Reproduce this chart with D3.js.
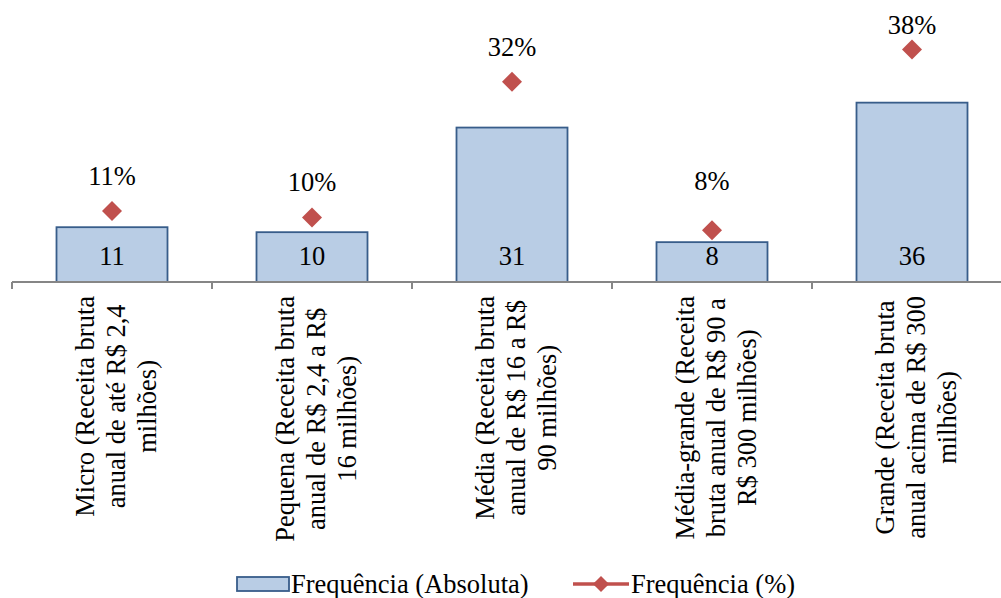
<!DOCTYPE html>
<html>
<head>
<meta charset="utf-8">
<script src="https://cdn.jsdelivr.net/npm/d3@7"></script>
<style>
  html, body { margin: 0; padding: 0; background: #fff; }
  svg { display: block; }
</style>
</head>
<body>
<script>
// Company size classes (each label split into its display lines)
const categories = [
  ["Micro (Receita bruta", "anual de até R$ 2,4", "milhões)"],
  ["Pequena (Receita bruta", "anual de R$ 2,4 a R$", "16 milhões)"],
  ["Média (Receita bruta", "anual de R$ 16 a R$", "90 milhões)"],
  ["Média-grande (Receita", "bruta anual de R$ 90 a", "R$ 300 milhões)"],
  ["Grande  (Receita bruta", "anual acima de R$ 300", "milhões)"]
];
// Absolute frequency (bars)
const absolute = [11, 10, 31, 8, 36];
// Relative frequency in % (diamonds)
const percent = [11.46, 10.42, 32.29, 8.33, 37.5];
const seriesNames = ["Frequência (Absoluta)", "Frequência (%)"];

const W = 1001, H = 598;
const fontSize = 26.5;
const fontFamily = "'Liberation Serif', 'Times New Roman', Times, 'DejaVu Serif', serif";
const barFill = "#B9CDE5", barStroke = "#385D8A", lineColor = "#C0504D";

const svg = d3.select("body").append("svg")
  .attr("width", W).attr("height", H)
  .attr("font-family", fontFamily)
  .style("font-family", fontFamily)
  .style("white-space", "pre");

const plotTop = 3, plotBottom = 282;
const idx = d3.range(categories.length);

const x = d3.scaleBand().domain(idx).range([12, 1012]).padding(0);
const yAbs = d3.scaleLinear().domain([0, 56]).range([plotBottom, plotTop]);
const yPct = d3.scaleLinear().domain([0, 45]).range([plotBottom, plotTop]);
const barW = x.bandwidth() * 0.555;

// Bars
svg.append("g").selectAll("rect").data(idx).join("rect")
  .attr("x", i => x(i) + (x.bandwidth() - barW) / 2)
  .attr("y", i => yAbs(absolute[i]))
  .attr("width", barW)
  .attr("height", i => yAbs(0) - yAbs(absolute[i]))
  .attr("fill", barFill)
  .attr("stroke", barStroke)
  .attr("stroke-width", 1.8);

// Value labels at the base of each bar
svg.append("g").selectAll("text").data(idx).join("text")
  .attr("x", i => x(i) + x.bandwidth() / 2)
  .attr("y", plotBottom - 17)
  .attr("text-anchor", "middle")
  .attr("font-size", fontSize)
  .text(i => absolute[i]);

// Category axis
const axis = svg.append("g").attr("transform", `translate(0,${plotBottom})`);
axis.append("line")
  .attr("x1", 12).attr("x2", 1012)
  .attr("stroke", "#868686").attr("stroke-width", 2);
axis.selectAll("line.tick").data(d3.range(categories.length + 1)).join("line")
  .attr("class", "tick")
  .attr("x1", k => 12 + k * x.step()).attr("x2", k => 12 + k * x.step())
  .attr("y1", 0).attr("y2", 7)
  .attr("stroke", "#868686").attr("stroke-width", 2);

// Rotated multi-line category labels, centred and hung from the axis
const lineH = 31;
const labelTop = 296;
const labels = svg.append("g").selectAll("g").data(idx).join("g");
labels.each(function (i) {
  const g = d3.select(this);
  const lines = categories[i];
  const n = lines.length;
  const t = g.append("text")
    .attr("text-anchor", "middle")
    .attr("font-size", fontSize);
  t.selectAll("tspan").data(lines).join("tspan")
    .attr("x", 0)
    .attr("y", (d, k) => (k - (n - 1) / 2) * lineH + fontSize * 0.33)
    .text(d => d);
  let maxLen = 0;
  t.selectAll("tspan").each(function () {
    maxLen = Math.max(maxLen, this.getComputedTextLength());
  });
  const cx = x(i) + x.bandwidth() / 2 + 4;
  const cy = labelTop + maxLen / 2;
  g.attr("transform", `translate(${cx},${cy}) rotate(-90)`);
});

// Diamonds for the percentage series
const diamond = d3.symbol().type(d3.symbolSquare).size(200);
svg.append("g").selectAll("path").data(idx).join("path")
  .attr("d", diamond)
  .attr("transform", i => `translate(${x(i) + x.bandwidth() / 2},${yPct(percent[i])}) rotate(45)`)
  .attr("fill", lineColor);

// Percentage labels above the diamonds; kept inside the chart area,
// and the small "Média-grande" label lifted clear of its bar
const labelLift = { 3: 14 };
svg.append("g").selectAll("text").data(idx).join("text")
  .attr("x", i => x(i) + x.bandwidth() / 2)
  .attr("y", i => Math.max(yPct(percent[i]) - 26 - (labelLift[i] || 0), plotTop + 31))
  .attr("text-anchor", "middle")
  .attr("font-size", fontSize)
  .text(i => Math.round(percent[i]) + "%");

// Legend
const legend = svg.append("g").attr("transform", "translate(0,584)");
legend.append("rect")
  .attr("x", 237).attr("y", -7).attr("width", 52).attr("height", 14)
  .attr("fill", barFill).attr("stroke", barStroke).attr("stroke-width", 1.8);
legend.append("text")
  .attr("x", 291).attr("y", 9)
  .attr("font-size", fontSize)
  .text(seriesNames[0]);
legend.append("line")
  .attr("x1", 573).attr("x2", 629).attr("y1", 0).attr("y2", 0)
  .attr("stroke", lineColor).attr("stroke-width", 3.5);
legend.append("path")
  .attr("d", d3.symbol().type(d3.symbolSquare).size(130))
  .attr("transform", "translate(601,0) rotate(45)")
  .attr("fill", lineColor);
legend.append("text")
  .attr("x", 631).attr("y", 9)
  .attr("font-size", fontSize)
  .text(seriesNames[1]);
</script>
</body>
</html>
